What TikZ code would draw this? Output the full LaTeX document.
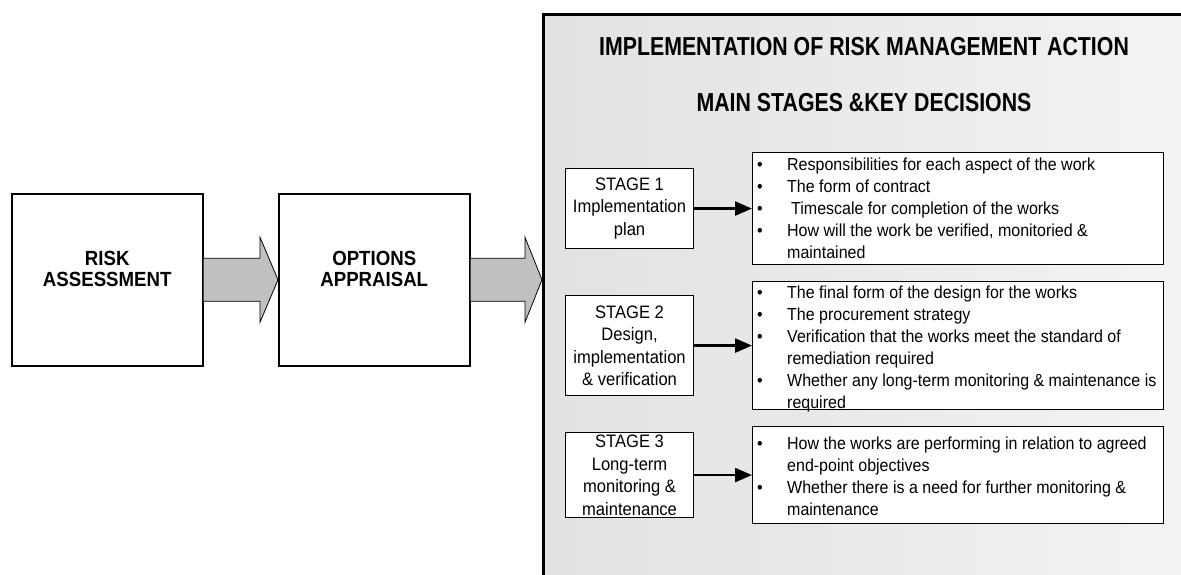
\documentclass[tikz,border=0pt]{standalone}
\usepackage{fontspec}
\setmainfont{Liberation Sans}[FakeStretch=0.92]
\newfontfamily\labelfont{Liberation Sans}[FakeStretch=0.91]
\newfontfamily\titlefont{Liberation Sans}[FakeStretch=0.82]
\usetikzlibrary{calc,arrows.meta}

\definecolor{panelleft}{gray}{0.885}
\definecolor{panelright}{gray}{0.96}
\definecolor{arrowgray}{HTML}{C0C0C0}

% one bullet row of a decision list
\newcommand{\bul}{\makebox[35pt][l]{\hspace{5pt}\textbullet}}

\tikzset{
  panel/.style={draw=black, line width=3pt, left color=panelleft, right color=panelright,
    anchor=north west, minimum width=700pt, minimum height=640pt, inner sep=0pt},
  headtext/.style={font=\titlefont\bfseries\fontsize{26}{28}\selectfont, inner sep=0pt},
  mainbox/.style={draw=black, line width=1.5pt, fill=white, anchor=north west,
    minimum width=191pt, minimum height=172pt, inner sep=0pt},
  mainlabel/.style={font=\labelfont\bfseries\fontsize{20.5}{21}\selectfont, align=center, inner sep=0pt},
  stagebox/.style={draw=black, line width=1.1pt, fill=white, anchor=north west,
    minimum width=128pt, inner sep=0pt},
  stagelabel/.style={font=\fontsize{18}{22.5}\selectfont, align=center, inner sep=0pt},
  notebox/.style={draw=black, line width=1.1pt, fill=white, anchor=north west,
    minimum width=411pt, inner sep=0pt},
  notetext/.style={font=\fontsize{17.4}{22}\selectfont, anchor=base west, inner sep=0pt},
  bigarrow/.style={fill=arrowgray, draw=black, line width=0.8pt, line join=miter},
  link/.style={line width=2.6pt, -{Triangle[length=17pt,width=14pt]}}
}

\begin{document}
\begin{tikzpicture}[x=1pt, y=-1pt]
\useasboundingbox (0,0) rectangle (1181,574);
\clip (0,0) rectangle (1181,574);

% shaded panel holding the implementation stages
\node[panel] (panel) at (542,13) {};
\node[headtext] (title) at (864,47) {IMPLEMENTATION OF RISK MANAGEMENT ACTION};
\node[headtext] (subtitle) at (864,103) {MAIN STAGES \&KEY DECISIONS};

% the two preceding steps
\node[mainbox] (ra) at (11,193) {};
\node[mainlabel] (ralabel) at ($(ra.center)+(0,-11)$) {RISK\\ASSESSMENT};
\node[mainbox] (oa) at (278,193) {};
\node[mainlabel] (oalabel) at ($(oa.center)+(0,-11)$) {OPTIONS\\APPRAISAL};

% block arrows between the steps
\fill[arrowgray] ($(ra.east)+(0,-21.5)$) -- ($(oa.west)+(-18,-21.5)$) -- ($(oa.west)+(-18,-42.5)$)
  -- (oa.west) -- ($(oa.west)+(-18,42.5)$) -- ($(oa.west)+(-18,21.5)$) -- ($(ra.east)+(0,21.5)$) -- cycle;
\draw[bigarrow, fill=none] ($(ra.east)+(0,-21.5)$) -- ($(oa.west)+(-18,-21.5)$) -- ($(oa.west)+(-18,-42.5)$)
  -- (oa.west) -- ($(oa.west)+(-18,42.5)$) -- ($(oa.west)+(-18,21.5)$) -- ($(ra.east)+(0,21.5)$);
\coordinate (tip) at (oa.east -| panel.west);
\fill[arrowgray] ($(oa.east)+(0,-21.5)$) -- ($(tip)+(-17,-21.5)$) -- ($(tip)+(-17,-42.5)$)
  -- (tip) -- ($(tip)+(-17,42.5)$) -- ($(tip)+(-17,21.5)$) -- ($(oa.east)+(0,21.5)$) -- cycle;
\draw[bigarrow, fill=none] ($(oa.east)+(0,-21.5)$) -- ($(tip)+(-17,-21.5)$) -- ($(tip)+(-17,-42.5)$)
  -- (tip) -- ($(tip)+(-17,42.5)$) -- ($(tip)+(-17,21.5)$) -- ($(oa.east)+(0,21.5)$);

% stage boxes
\node[stagebox, minimum height=80pt] (s1) at (565,168) {};
\node[stagelabel] (s1label) at (s1.center) {STAGE 1\\Implementation\\plan};
\node[stagebox, minimum height=100pt] (s2) at (565,295) {};
\node[stagelabel] (s2label) at (s2.center) {STAGE 2\\Design,\\implementation\\\& verification};
\node[stagebox, minimum height=85pt] (s3) at (565,432) {};
\node[stagelabel] (s3label) at (s3.center) {STAGE 3\\Long-term\\monitoring \&\\maintenance};

% decision lists
\node[notebox, minimum height=112pt] (b1) at (752,152) {};
\node[notetext] (b1text) at ($(b1.north west)+(0,18)$) {\begin{tabular}[t]{@{}l@{}l@{}}
\bul & Responsibilities for each aspect of the work\\
\bul & The form of contract\\
\bul & \hspace{4pt}Timescale for completion of the works\\
\bul & How will the work be verified, monitoried \&\\
 & maintained
\end{tabular}};

\node[notebox, minimum height=128pt] (b2) at (752,281) {};
\node[notetext] (b2text) at ($(b2.north west)+(0,17)$) {\begin{tabular}[t]{@{}l@{}l@{}}
\bul & The final form of the design for the works\\
\bul & The procurement strategy\\
\bul & Verification that the works meet the standard of\\
 & remediation required\\
\bul & Whether any long-term monitoring \& maintenance is\\
 & required
\end{tabular}};

\node[notebox, minimum height=97pt] (b3) at (752,426) {};
\node[notetext] (b3text) at ($(b3.north west)+(0,23)$) {\begin{tabular}[t]{@{}l@{}l@{}}
\bul & How the works are performing in relation to agreed\\
 & end-point objectives\\
\bul & Whether there is a need for further monitoring \&\\
 & maintenance
\end{tabular}};

% links from each stage to its decisions
\draw[link] (s1.east) -- (b1.west);
\draw[link] (s2.east) -- (b2.west);
\draw[link] (s3.east) -- (b3.west);
\end{tikzpicture}
\end{document}
